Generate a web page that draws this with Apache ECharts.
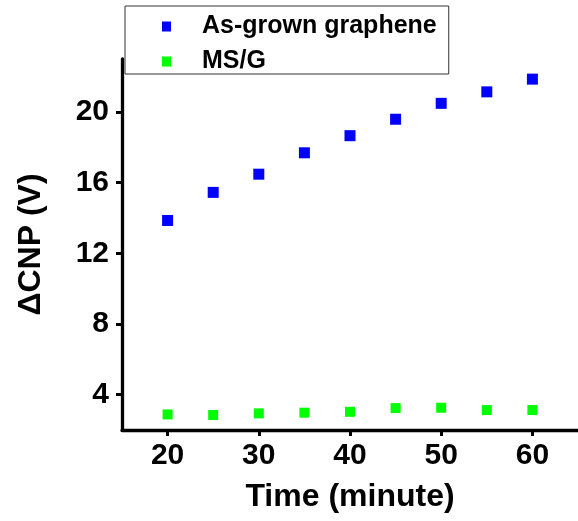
<!DOCTYPE html>
<html>
<head>
<meta charset="utf-8">
<script src="https://cdn.jsdelivr.net/npm/echarts@6/dist/echarts.min.js"></script>
<style>
html,body{margin:0;padding:0;background:#fff;}
#c{width:578px;height:521px;}
</style>
</head>
<body>
<div id="c"></div>
<script>
const times = [20, 25, 30, 35, 40, 45, 50, 55, 60];
const asGrown = [13.86, 15.45, 16.48, 17.69, 18.66, 19.59, 20.49, 21.14, 21.86];
const msg = [2.88, 2.85, 2.94, 2.98, 3.03, 3.24, 3.26, 3.13, 3.13];
const xTicks = [20, 30, 40, 50, 60];
const yTicks = [4, 8, 12, 16, 20];
const seriesNames = ['As-grown graphene', 'MS/G'];

const FONT = '"Liberation Sans", Arial, sans-serif';
const chart = echarts.init(document.getElementById('c'), null, {renderer: 'canvas'});
const pairs = arr => times.map((t, i) => [t, arr[i]]);

chart.setOption({
  animation: false,
  backgroundColor: '#fff',
  grid: {left: 122, right: 0, top: 59, bottom: 91, containLabel: false},
  legend: {
    orient: 'vertical',
    left: 125, top: 6,
    padding: [8, 12, 0, 37],
    itemGap: 10,
    itemWidth: 9, itemHeight: 10,
    icon: 'rect',
    borderColor: '#333', borderWidth: 1,
    formatter: name => '{g|}{t|' + name + '}',
    textStyle: {
      rich: {
        g: {width: 26},
        t: {fontFamily: FONT, fontWeight: 'bold', fontSize: 25, color: '#000', lineHeight: 28}
      }
    },
    data: seriesNames
  },
  xAxis: {
    type: 'value', min: 15, max: 65,
    name: 'Time (minute)', nameLocation: 'middle', nameGap: 51,
    nameTextStyle: {fontFamily: FONT, fontWeight: 'bold', fontSize: 32, color: '#000'},
    axisLine: {show: true, lineStyle: {color: '#000', width: 3.3}},
    axisTick: {show: true, length: 6, inside: false, lineStyle: {color: '#000', width: 3}, customValues: xTicks},
    axisLabel: {fontFamily: FONT, fontWeight: 'bold', fontSize: 30, color: '#000', margin: 11, customValues: xTicks},
    splitLine: {show: false}
  },
  yAxis: {
    type: 'value', min: 2, max: 23,
    name: 'ΔCNP (V)', nameLocation: 'middle', nameGap: 75, nameRotate: 90,
    nameTextStyle: {fontFamily: FONT, fontWeight: 'bold', fontSize: 32, color: '#000'},
    axisLine: {show: true, lineStyle: {color: '#000', width: 3.3}},
    axisTick: {show: true, length: 6, inside: false, lineStyle: {color: '#000', width: 3}, customValues: yTicks},
    axisLabel: {fontFamily: FONT, fontWeight: 'bold', fontSize: 30, color: '#000', margin: 13, customValues: yTicks},
    splitLine: {show: false}
  },
  series: [
    {name: seriesNames[0], type: 'scatter', symbol: 'rect', symbolSize: 11,
     itemStyle: {color: '#0000ff', opacity: 1}, data: pairs(asGrown)},
    {name: seriesNames[1], type: 'scatter', symbol: 'rect', symbolSize: 10,
     itemStyle: {color: '#00ff00', opacity: 1}, data: pairs(msg)}
  ]
});
</script>
</body>
</html>
